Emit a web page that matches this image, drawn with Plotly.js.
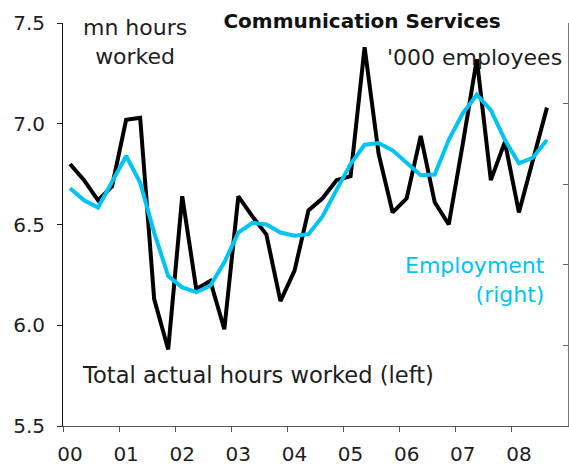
<!DOCTYPE html>
<html>
<head>
<meta charset="utf-8">
<script src="https://cdn.plot.ly/plotly-3.0.1.min.js"></script>
<style>
  html, body { margin: 0; padding: 0; background: #fff; }
  #chart { width: 569px; height: 468px; }
</style>
</head>
<body>
<div id="chart"></div>
<script>
// quarterly data, Q1 2000 .. Q3 2008
const FIRST_YEAR = 2000
const N_QUARTERS = 35

// total actual hours worked, mn hours (left axis)
const hoursWorked = [
  6.80, 6.72, 6.62, 6.69, 7.02, 7.03, 6.13, 5.88, 6.64, 6.18,
  6.22, 5.98, 6.64, 6.54, 6.45, 6.12, 6.27, 6.57, 6.63, 6.72,
  6.74, 7.38, 6.85, 6.56, 6.63, 6.94, 6.61, 6.50, 6.90, 7.32,
  6.72, 6.91, 6.56, 6.82, 7.08
]

// employment, '000 employees (right axis)
const employment = [
  129.5, 128.0, 127.1, 130.3, 133.5, 130.2, 124.0, 118.6, 117.2, 116.6,
  117.4, 120.3, 124.0, 125.2, 125.0, 124.0, 123.6, 123.8, 126.0, 129.3,
  132.5, 134.9, 135.1, 134.2, 132.6, 131.1, 131.2, 135.5, 138.8, 141.1,
  139.2, 135.5, 132.6, 133.3, 135.5
]

const yearTicks = [2000, 2001, 2002, 2003, 2004, 2005, 2006, 2007, 2008]
const yearLabels = ['00', '01', '02', '03', '04', '05', '06', '07', '08']

const FONT = 'DejaVu Sans, Verdana, sans-serif'
const CYAN = '#00C4F2'
const TEXT = '#1e1e1e'

// mid-quarter positions on a decimal year axis
const quarters = []
for (let i = 0; i < N_QUARTERS; i++) quarters.push(FIRST_YEAR + 0.125 + i * 0.25)

const data = [
  {
    x: quarters,
    y: hoursWorked,
    type: 'scatter',
    mode: 'lines',
    name: 'Total actual hours worked (left)',
    line: {color: '#000', width: 4},
    yaxis: 'y'
  },
  {
    x: quarters,
    y: employment,
    type: 'scatter',
    mode: 'lines',
    name: 'Employment (right)',
    line: {color: CYAN, width: 4},
    yaxis: 'y2'
  }
]

const layout = {
  width: 569,
  height: 468,
  margin: {l: 63, r: 1, t: 23, b: 42},
  paper_bgcolor: '#fff',
  plot_bgcolor: '#fff',
  showlegend: false,
  font: {family: FONT, size: 20, color: TEXT},
  title: {
    text: 'Communication Services',
    font: {family: FONT, size: 20, weight: 'bold', color: '#111'},
    x: 362 / 569,
    xanchor: 'center',
    yref: 'container',
    y: 1 - 21 / 468,
    yanchor: 'middle'
  },
  xaxis: {
    range: [2000, 2009],
    tickvals: yearTicks,
    ticktext: yearLabels,
    ticks: 'outside',
    ticklen: 5,
    tickcolor: '#555',
    ticklabelshift: 7,
    ticklabelstandoff: 5,
    showline: true,
    linecolor: '#555',
    showgrid: false,
    zeroline: false,
    tickfont: {family: FONT, size: 20, color: TEXT}
  },
  yaxis: {
    range: [5.5, 7.5],
    tickvals: [5.5, 6.0, 6.5, 7.0, 7.5],
    ticktext: ['5.5', '6.0', '6.5', '7.0', '7.5'],
    ticks: 'outside',
    ticklen: 5,
    tickcolor: '#222',
    ticklabelstandoff: 8,
    showline: true,
    linecolor: '#111',
    showgrid: false,
    zeroline: false,
    tickfont: {family: FONT, size: 20, color: TEXT}
  },
  yaxis2: {
    overlaying: 'y',
    side: 'right',
    range: [100, 150],
    dtick: 10,
    ticks: 'inside',
    ticklen: 5,
    tickcolor: '#666',
    showticklabels: false,
    showline: true,
    linecolor: '#777',
    showgrid: false,
    zeroline: false
  },
  annotations: [
    {
      text: 'mn hours<br>worked',
      xref: 'paper', yref: 'paper',
      x: 0.1426, y: 0.953,
      xanchor: 'center', yanchor: 'middle',
      showarrow: false,
      font: {family: FONT, size: 22, color: TEXT}
    },
    {
      text: "'000 employees",
      xref: 'paper', yref: 'paper',
      x: 0.637, y: 0.9156,
      xanchor: 'left', yanchor: 'middle',
      showarrow: false,
      font: {family: FONT, size: 22, color: TEXT}
    },
    {
      text: 'Employment<br>(right)',
      xref: 'paper', yref: 'paper',
      x: 0.958, y: 0.362,
      xanchor: 'right', yanchor: 'middle', align: 'right',
      showarrow: false,
      font: {family: FONT, size: 22, color: CYAN}
    },
    {
      text: 'Total actual hours worked (left)',
      xref: 'paper', yref: 'paper',
      x: 0.034, y: 0.1266,
      xanchor: 'left', yanchor: 'middle',
      showarrow: false,
      font: {family: FONT, size: 22.6, color: TEXT}
    }
  ]
}

Plotly.newPlot('chart', data, layout, {staticPlot: true, displayModeBar: false})
</script>
</body>
</html>
